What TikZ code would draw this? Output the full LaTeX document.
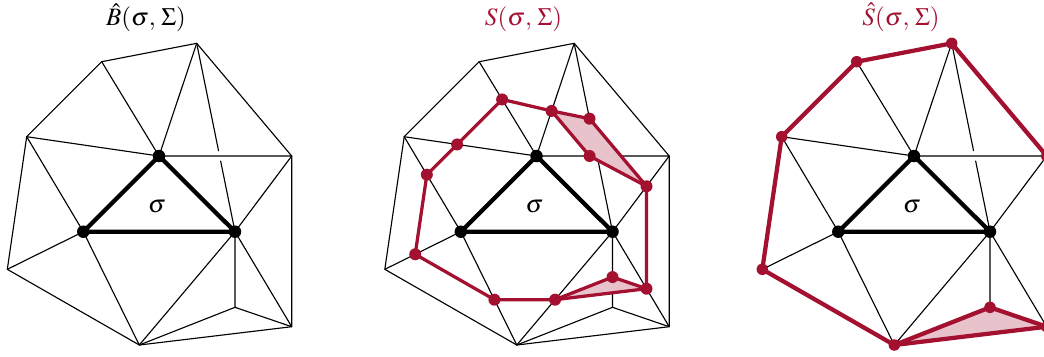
\documentclass[tikz,border=0pt]{standalone}
\usepackage{mathptmx}
\usetikzlibrary{calc}
\definecolor{crimson}{RGB}{163,16,48}

\begin{document}
\begin{tikzpicture}[x=0.4pt, y=-0.4pt, line cap=round, line join=round,
    edge/.style={line width=0.45pt},
    simplex/.style={line width=1.7pt},
    cut/.style={crimson, line width=1.3pt},
    hull/.style={crimson, line width=1.7pt},
    face/.style={fill=crimson!25}]
  \useasboundingbox (0,0) rectangle (1044,356);
  % same triangulation in all three panels
  \foreach \p/\s in {a/0, b/377.5, c/755} {
    \begin{scope}[xshift=\s*0.4pt]
      \coordinate (\p-top) at (196.7,43.3);
      \coordinate (\p-ul) at (101.7,61.7);
      \coordinate (\p-lu) at (26.7,136.7);
      \coordinate (\p-ld) at (7.3,269.3);
      \coordinate (\p-bot) at (139.3,345);
      \coordinate (\p-br) at (291.7,326.7);
      \coordinate (\p-rt) at (291.7,156);
      \coordinate (\p-ib) at (235,307.3);
      \coordinate (\p-A) at (159,156);
      \coordinate (\p-P) at (83.3,231.7);
      \coordinate (\p-Q) at (235,231.7);
      \draw[edge] (\p-ul) -- (\p-top) -- (\p-rt) -- (\p-br) -- (\p-bot)
        -- (\p-ld) -- (\p-lu) -- cycle;
      \draw[edge] (\p-ul) -- (\p-A) -- (\p-top);
      \draw[edge] (\p-lu) -- (\p-A) -- (\p-rt) -- (\p-Q);
      \draw[edge] (\p-top) -- ($(\p-top)!0.57!(\p-Q)$);
      \draw[edge] ($(\p-top)!0.625!(\p-Q)$) -- (\p-Q);
      \draw[edge] (\p-lu) -- (\p-P) -- (\p-ld);
      \draw[edge] (\p-P) -- (\p-bot) -- (\p-Q);
      \draw[edge] (\p-bot) -- (\p-ib) -- (\p-br) -- (\p-Q) -- (\p-ib);
      \draw[simplex] (\p-P) -- (\p-A) -- (\p-Q) -- cycle;
      \fill (\p-P) circle (2.5pt) (\p-A) circle (2.5pt) (\p-Q) circle (2.5pt);
      \node (\p-sig) at (157,207) {$\sigma$};
    \end{scope}
  }
  \node[anchor=base] (tB) at (146,25) {$\hat{B}(\sigma,\,\Sigma)$};
  \node[anchor=base, text=crimson] (tS) at (523.5,25) {$S(\sigma,\,\Sigma)$};
  \node[anchor=base, text=crimson] (tSh) at (901,25) {$\hat{S}(\sigma,\,\Sigma)$};
  % middle panel
  \coordinate (s1) at ($(b-A)!0.6!(b-ul)$);
  \coordinate (s2) at ($(b-A)!0.4!(b-top)$);
  \coordinate (s3) at ($(b-top)!0.4!(b-Q)$);
  \coordinate (s4) at ($(b-rt)!0.4!(b-Q)$);
  \coordinate (s5) at ($(b-Q)!0.6!(b-br)$);
  \coordinate (s6) at ($(b-Q)!0.6!(b-ib)$);
  \coordinate (s7) at ($(b-Q)!0.6!(b-bot)$);
  \coordinate (s8) at ($(b-P)!0.6!(b-bot)$);
  \coordinate (s9) at ($(b-P)!0.6!(b-ld)$);
  \coordinate (s10) at ($(b-P)!0.6!(b-lu)$);
  \coordinate (s11) at ($(b-A)!0.6!(b-lu)$);
  \coordinate (s12) at ($(b-A)!0.4!(b-rt)$);
  \fill[face] (s2) -- (s3) -- (s4) -- (s12) -- cycle;
  \fill[face] (s5) -- (s6) -- (s7) -- cycle;
  \draw[cut] (s1) -- (s2) -- (s3) -- (s4) -- (s5) -- (s7) -- (s8) -- (s9)
    -- (s10) -- (s11) -- cycle;
  \draw[cut] (s2) -- (s12) -- (s4);
  \draw[cut] (s5) -- (s6) -- (s7);
  \fill[crimson] (s1) circle (2.4pt) (s2) circle (2.4pt) (s3) circle (2.4pt)
    (s4) circle (2.4pt) (s5) circle (2.4pt) (s6) circle (2.4pt)
    (s7) circle (2.4pt) (s8) circle (2.4pt) (s9) circle (2.4pt)
    (s10) circle (2.4pt) (s11) circle (2.4pt) (s12) circle (2.4pt);
  % right panel
  \fill[face] (c-bot) -- (c-ib) -- (c-br) -- cycle;
  \draw[hull] (c-br) -- (c-bot) -- (c-ld) -- (c-lu) -- (c-ul) -- (c-top)
    -- (c-rt) -- cycle;
  \draw[hull] (c-bot) -- (c-ib) -- (c-br);
  \fill[crimson] (c-top) circle (2.3pt) (c-ul) circle (2.3pt)
    (c-lu) circle (2.3pt) (c-ld) circle (2.3pt) (c-bot) circle (2.3pt)
    (c-ib) circle (2.3pt) (c-br) circle (2.3pt) (c-rt) circle (2.3pt);
\end{tikzpicture}
\end{document}
